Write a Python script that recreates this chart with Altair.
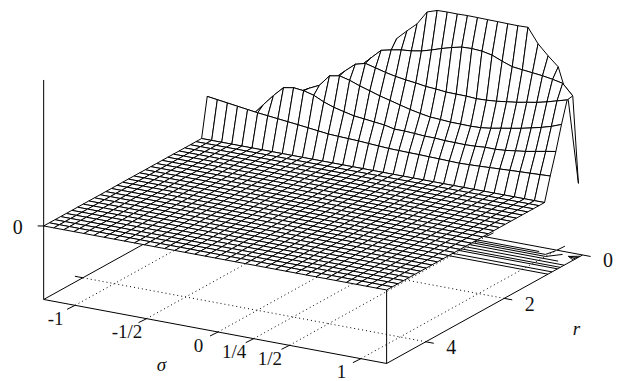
import altair as alt
import pandas as pd

alt.data_transformers.disable_max_rows()

# Axis ticks and labels
sigma_ticks = [-1, -0.5, 0, 0.25, 0.5, 1]
sigma_labels = ["-1", "-1/2", "0", "1/4", "1/2", "1"]
r_ticks = [4, 2, 0]
r_labels = ["4", "2", "0"]

SIGMA_MIN, SIGMA_MAX = -1.22, 1.18
R_MAX = 5.0
R_STEP = 0.1439
N_SIGMA = 35
N_FLAT_ROWS = 29   # rows of the mesh lying at height 0

# Surface heights of the wall rows, one value per sigma column, nearest row first
z_row1 = [39, 37.6, 36.2, 34.8, 33.4, 32, 30.9, 29.8, 28.7, 27.6, 26.4, 25.2, 24, 23.5, 23.1, 22.7, 22, 21.4,
          20.8, 20.6, 20.4, 20.3, 20, 19.8, 19.5, 19.2, 19.6, 20, 20.5, 21, 21.5, 22, 22.4, 22.9, 23.4]
z_row2 = [11, 13, 16, 20, 25.7, 37, 48, 57.8, 59.6, 58.5, 55.8, 51, 47.5, 45, 42.7, 41.6, 40.4, 39.3,
          37, 37, 36.4, 35.7, 35.6, 34.9, 34.8, 34.6, 35, 35.8, 35.7, 36.5, 37.9, 39.2, 41.1, 43, 44.8]
z_row3 = [9, 11, 14, 18, 24, 33, 41, 47, 52.5, 57.9, 62.7, 74, 75.9, 73.3, 69.6, 66.5, 63.3, 60.7,
          58, 55.4, 53.3, 51.6, 51, 50.3, 50.2, 50, 50.4, 51.7, 53.6, 55.4, 57.3, 59.6, 62, 64.9, 68.7]
z_row4 = [10, 12, 15, 17, 27, 31, 36, 41, 46, 52, 60, 69, 77.8, 86.2, 89, 86.4, 83.7, 81.6,
          80, 78.8, 77.2, 76.5, 75.4, 75.2, 75.1, 74.4, 74.8, 75.6, 77, 78.3, 80.2, 82, 84.4, 87.3, 90.1]
z_row5 = [8, 10, 13, 17, 25, 29, 33, 38, 43, 48, 55, 62, 72, 82, 91.4, 100.8, 103.1, 105,
          105.9, 107.7, 110.6, 113.9, 116.8, 119.1, 119.5, 118.8, 116.7, 112.5, 108.9, 107.7, 106.6, 105.5, 103.8, 101.7, 91]
z_row6 = [7, 9, 11, 16, 24, 28, 32, 37, 42, 48, 54, 60, 66, 72, 80, 85, 111.5, 120.9,
          129.8, 143.6, 147, 147.3, 147.2, 147.5, 147.4, 147.2, 147.1, 146.9, 146.8, 147.1, 132.5, 122.3, 113.2, 81.5, 0.4]
wall_rows = [z_row1, z_row2, z_row3, z_row4, z_row5, z_row6]

# Contours on the floor: (sigma, r) vertices
contours = [
    [(0.0, 0.885), (1.18, 0.885)],
    [(0.0, 0.78), (1.18, 0.78)],
    [(0.0, 0.64), (1.18, 0.64)],
    [(0.0, 0.57), (1.18, 0.57)],
    [(0.0, 0.47), (1.18, 0.47)],
    [(0.0, 0.37), (1.11, 0.37)],
    [(0.0, 0.29), (1.0, 0.29), (1.07, 0.11)],
    [(0.0, 0.23), (0.98, 0.22), (1.0, 0.03)],
    [(0.0, 0.16), (0.92, 0.16)],
    [(1.12, 0.14), (1.18, 0.24)],
    [(1.12, 0.14), (1.18, 0.18)],
    [(1.12, 0.14), (1.18, 0.12)],
    [(1.12, 0.14), (1.18, 0.06)],
]

Z_FLOOR = -73.5
Z_TOP = 146


def project(sigma, r, z=0.0):
    u = R_MAX - r
    return (218 + 142.9 * sigma + 39.2 * u,
            332 + 26.67 * sigma - 21.7 * u - 73.5 - z)


def floor(sigma, r):
    return project(sigma, r, Z_FLOOR)


sig_vals = [SIGMA_MIN + (SIGMA_MAX - SIGMA_MIN) * i / (N_SIGMA - 1) for i in range(N_SIGMA)]
rows = [[0.0] * N_SIGMA for _ in range(N_FLAT_ROWS)] + wall_rows
r_vals = [R_MAX - R_STEP * k for k in range(len(rows))]

# Surface cells, far ones first so that nearer cells hide them
cells = []
cid = 0
for k in range(len(rows) - 2, -1, -1):
    for i in range(N_SIGMA - 1):
        corners = [(i, k), (i + 1, k), (i + 1, k + 1), (i, k + 1)]
        for o, (a, b) in enumerate(corners):
            x, y = project(sig_vals[a], r_vals[b], rows[b][a])
            cells.append({"x": x, "y": y, "id": cid, "o": o})
        cid += 1
cells = pd.DataFrame(cells)


def polylines(lines):
    out = []
    for n, pts in enumerate(lines):
        for o, (x, y) in enumerate(pts):
            out.append({"x": x, "y": y, "id": n, "o": o})
    return pd.DataFrame(out)


X = alt.X("x:Q", axis=None, scale=alt.Scale(domain=[8, 618], zero=False, nice=False))
Y = alt.Y("y:Q", axis=None, scale=alt.Scale(domain=[381, 8], zero=False, nice=False))


def draw(df, **mark):
    return alt.Chart(df).mark_line(color="black", **mark).encode(
        x=X, y=Y, detail="id:N", order="o:Q")


R0 = 0.0
dotted = [[floor(s, R_MAX), floor(s, R0)] for s in sigma_ticks] + \
         [[floor(SIGMA_MIN, r), floor(SIGMA_MAX, r)] for r in r_ticks[:2]]

floor_back = [
    [floor(SIGMA_MIN, R_MAX), floor(SIGMA_MIN, R0)],
    [floor(SIGMA_MIN, R0), floor(SIGMA_MAX, R0)],
]
contour_lines = [[floor(s, r) for s, r in c] for c in contours]

ticks_under = []
for s in sigma_ticks:
    x, y = floor(s, R0)
    ticks_under.append([(x, y), (x + 8, y - 4)])
for r in r_ticks:
    x, y = floor(SIGMA_MIN, r)
    ticks_under.append([(x, y), (x - 8, y - 1.5)])

front = [
    [floor(SIGMA_MIN, R_MAX), floor(SIGMA_MAX, R_MAX), floor(SIGMA_MAX, R0)],
    [project(SIGMA_MAX, R_MAX, 0), floor(SIGMA_MAX, R_MAX)],
    [project(SIGMA_MIN, R_MAX, Z_TOP), floor(SIGMA_MIN, R_MAX)],
]
x0, y0 = project(SIGMA_MIN, R_MAX, 0)
front.append([(x0 - 6, y0), (x0, y0)])
for s in sigma_ticks:
    x, y = floor(s, R_MAX)
    front.append([(x, y), (x - 8, y + 4)])
for r in r_ticks:
    x, y = floor(SIGMA_MAX, r)
    front.append([(x, y), (x + 8, y + 1.5)])

sigma_pos = [floor(s, R_MAX) for s in sigma_ticks]
r_pos = [floor(SIGMA_MAX, r) for r in r_ticks]
sigma_text = pd.DataFrame({"x": [p[0] for p in sigma_pos], "y": [p[1] for p in sigma_pos], "t": sigma_labels})
r_text = pd.DataFrame({"x": [p[0] for p in r_pos], "y": [p[1] for p in r_pos], "t": r_labels})
z_text = pd.DataFrame({"x": [x0], "y": [y0], "t": ["0"]})
sx, sy = floor(-0.2, R_MAX)
rx, ry = floor(SIGMA_MAX, 1)
sig_title = pd.DataFrame({"x": [sx], "y": [sy], "t": ["\u03c3"]})
r_title = pd.DataFrame({"x": [rx], "y": [ry], "t": ["r"]})


def label(df, dx, dy, italic=False, size=20):
    m = dict(font="Liberation Serif", fontSize=size, color="#111111", align="center",
             baseline="middle", dx=dx, dy=dy)
    if italic:
        m["fontStyle"] = "italic"
    return alt.Chart(df).mark_text(**m).encode(x=X, y=Y, text="t:N")


surface = alt.Chart(cells).mark_line(
    color="black", fill="white", strokeWidth=1.0, interpolate="linear-closed", strokeJoin="round"
).encode(x=X, y=Y, detail="id:N", order="o:Q")

chart = alt.layer(
    draw(polylines(dotted), strokeWidth=1.0, strokeDash=[1, 3]),
    draw(polylines(floor_back), strokeWidth=1.0),
    draw(polylines(contour_lines), strokeWidth=1.0),
    draw(polylines(ticks_under), strokeWidth=1.0),
    surface,
    draw(polylines(front), strokeWidth=1.0),
    label(sigma_text, -19.5, 13.5, size=19),
    label(r_text, 25.5, 6.5),
    label(z_text, -26, 2),
    label(sig_title, -28, 38, italic=True, size=19),
    label(r_title, 33, 52, italic=True, size=19),
).properties(
    width=610, height=373,
    autosize=alt.AutoSizeParams(type="none"),
    padding=0,
    view=alt.ViewConfig(stroke=None),
)

chart.save("out.html", embed_options={"renderer": "svg", "actions": False})
